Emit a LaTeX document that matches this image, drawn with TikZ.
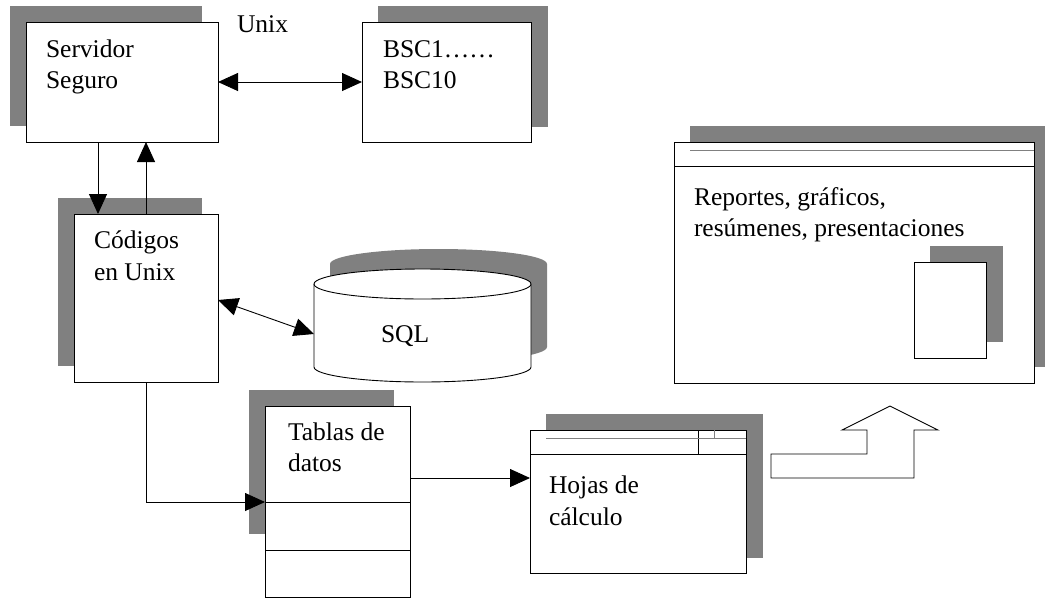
\documentclass[tikz,border=0pt]{standalone}
\usepackage{fontspec}
\setmainfont{Liberation Serif}
\usetikzlibrary{arrows.meta,calc}
\definecolor{shadowgray}{HTML}{808080}

\begin{document}
\begin{tikzpicture}[x=1pt,y=-1pt,
  every node/.style={inner sep=0pt, outer sep=0pt},
  box/.style={draw, line width=0.9pt, fill=white, anchor=north west},
  shade/.style={fill=shadowgray, draw=none},
  thin gray/.style={draw=shadowgray, line width=0.8pt},
  txt/.style={anchor=base west, font=\fontsize{25.5}{31}\selectfont},
  conn/.style={line width=0.9pt, -{Triangle[length=20pt,width=18pt]}},
  dconn/.style={line width=0.9pt, {Triangle[length=20pt,width=18pt]}-{Triangle[length=20pt,width=18pt]}},
]
\useasboundingbox (0,0) rectangle (1045,598);

% ---- Servidor Seguro
\fill[shade] (10,6) rectangle (202,126);
\node[box, minimum width=192pt, minimum height=120pt] (serv) at (26,22) {};
\node[txt] (servA) at (46,57) {Servidor};
\node[txt] (servB) at (46,88) {Seguro};
\node[txt] (unix) at (237,32) {Unix};

% ---- BSC
\fill[shade] (378,6) rectangle (548,127);
\node[box, minimum width=169pt, minimum height=120pt] (bsc) at (362,22) {};
\node[txt] (bscA) at (383,57) {BSC1……};
\node[txt] (bscB) at (383,88) {BSC10};

% ---- Códigos en Unix
\fill[shade] (58,198) rectangle (202,366);
\node[box, minimum width=144pt, minimum height=168pt] (cod) at (74,214) {};
\node[txt] (codA) at (94,248) {Códigos};
\node[txt] (codB) at (94,280) {en Unix};

% ---- SQL cylinder
\fill[shade] (330,264) arc[start angle=180, end angle=0, x radius=108.5pt, y radius=15pt]
  -- (547,347) arc[start angle=0, end angle=-180, x radius=108.5pt, y radius=15pt] -- cycle;
\filldraw[fill=white, line width=0.9pt] (314,284)
  -- (314,367) arc[start angle=180, end angle=360, x radius=108.5pt, y radius=15pt]
  -- (531,284);
\filldraw[fill=white, line width=0.9pt] (422.5,284) ellipse[x radius=108.5pt, y radius=15pt];
\node[txt] (sql) at (381,342) {SQL};
\coordinate (sqlL) at (314,334);

% ---- Tablas de datos
\fill[shade] (249,390) rectangle (394,534);
\node[box, minimum width=145pt, minimum height=144pt] (tab) at (265,406) {};
\draw[line width=0.9pt] ($(tab.south west)+(0,-48)$) coordinate (tabdiv) -- ($(tab.south east)+(0,-48)$);
\node[box, minimum width=145pt, minimum height=47pt] (tabc) at (tab.south west) {};
\node[txt] (tabA) at (288,440) {Tablas de};
\node[txt] (tabB) at (288,471) {datos};

% ---- Hojas de cálculo
\fill[shade] (546,414) rectangle (763,558);
\node[box, minimum width=216pt, minimum height=143pt] (hoj) at (530,430) {};
\draw[line width=0.9pt] ($(hoj.north west)+(0,24)$) -- ($(hoj.north east)+(0,24)$);
\draw[line width=0.9pt] ($(hoj.north west)+(168,0)$) -- ($(hoj.north west)+(168,24)$);
\draw[thin gray] (546,438) -- (746,438);
\draw[thin gray] (714,414) -- (714,438);
\node[txt] (hojA) at (549,493) {Hojas de};
\node[txt] (hojB) at (549,525) {cálculo};

% ---- Reportes window
\fill[shade] (690,126) rectangle (1050,367);
\node[box, minimum width=360pt, minimum height=241pt] (rep) at (674,142) {};
\draw[line width=0.9pt] ($(rep.north west)+(0,24)$) -- ($(rep.north east)+(0,24)$);
\draw[thin gray] (690,150) -- (1034,150);
\node[txt] (repA) at (694,205) {Reportes, gráficos,};
\node[txt] (repB) at (694,236) {resúmenes, presentaciones};
\fill[shade] (930,246) rectangle (1003,342);
\node[box, minimum width=72pt, minimum height=96pt] (doc) at (914,262) {};

% ---- stepped block arrow
\draw[line width=0.9pt, fill=white] (771,478) -- (771,454) -- (867,454) -- (867,430)
  -- (842,430) -- (890,406) -- (938,430) -- (914,430) -- (914,478) -- cycle;

% ---- connectors
\draw[dconn] (serv.east) -- (bsc.west);
\draw[conn] ([xshift=24pt]cod.north west |- serv.south) -- ([xshift=24pt]cod.north west);
\draw[conn] (cod.north) -- (cod.north |- serv.south);
\draw[dconn] ([yshift=-2pt]cod.east) -- (sqlL);
\draw[conn] (cod.south) |- (tabdiv);
\draw[conn] (tab.east) -- (tab.east -| hoj.west);
\end{tikzpicture}
\end{document}
